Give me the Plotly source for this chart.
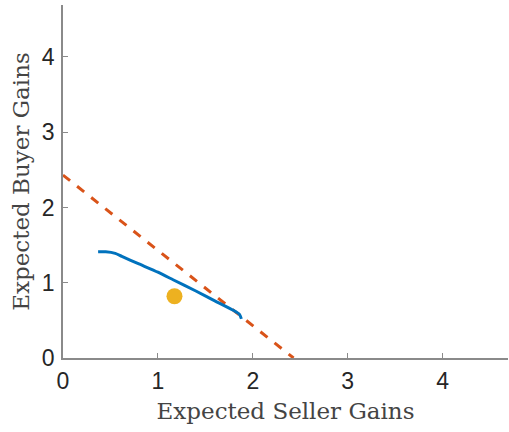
import plotly.graph_objects as go

# Efficient frontier (dashed): buyer + seller gains equal total surplus
frontier_x = [0.0, 2.43]
frontier_y = [2.43, 0.0]

# Achievable expected gains under the mechanism
curve_x = [0.37, 0.45, 0.55, 0.62, 0.80, 1.00, 1.16, 1.40, 1.60, 1.80, 1.86, 1.88]
curve_y = [1.41, 1.41, 1.39, 1.35, 1.25, 1.14, 1.04, 0.89, 0.76, 0.63, 0.58, 0.52]

# Single benchmark outcome
point_x = [1.175]
point_y = [0.82]

ticks = [0, 1, 2, 3, 4]
axis_max = 4.69

fig = go.Figure()
fig.add_trace(go.Scatter(x=frontier_x, y=frontier_y, mode="lines",
                         line=dict(color="#D95319", width=3, dash="dash"),
                         showlegend=False))
fig.add_trace(go.Scatter(x=curve_x, y=curve_y, mode="lines",
                         line=dict(color="#0072BD", width=3, shape="spline", smoothing=0.6),
                         showlegend=False))
fig.add_trace(go.Scatter(x=point_x, y=point_y, mode="markers",
                         marker=dict(color="#EDB120", size=16, line=dict(width=0)),
                         showlegend=False))

axis_common = dict(
    range=[0, axis_max], tickvals=ticks, ticktext=[str(t) for t in ticks],
    showgrid=False, zeroline=False, showline=True, linecolor="#8a8a8a", linewidth=1.5,
    ticks="inside", ticklen=5, tickcolor="#8a8a8a", tickwidth=1,
    tickfont=dict(family="Liberation Sans, Arial, sans-serif", size=23, color="#262626"),
)
title_font = dict(family="DejaVu Serif, Liberation Serif, serif", size=23, color="#444444")

fig.update_layout(
    width=509, height=432,
    margin=dict(l=63, r=1, t=5, b=74),
    paper_bgcolor="white", plot_bgcolor="white",
    xaxis=dict(**axis_common, ticklabelstandoff=2,
               title=dict(text="Expected Seller Gains", standoff=10, font=title_font)),
    yaxis=dict(**axis_common, ticklabelstandoff=2,
               title=dict(text="Expected Buyer Gains", standoff=6, font=title_font)),
)

fig.write_html("out.html")
